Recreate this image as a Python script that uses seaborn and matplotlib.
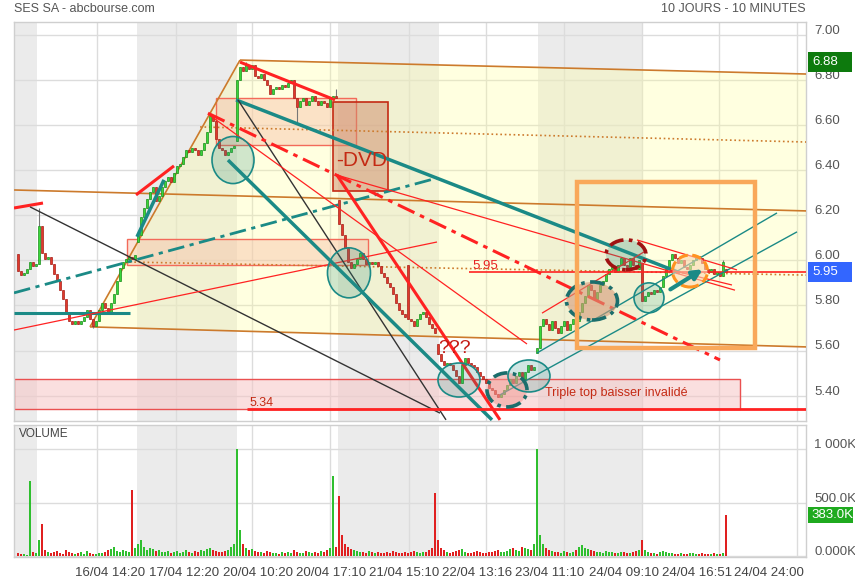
import numpy as np
import pandas as pd
import matplotlib
matplotlib.use("Agg")
import matplotlib.pyplot as plt
import matplotlib.transforms as mtrans
from matplotlib.patches import Rectangle, Ellipse, Polygon, FancyArrowPatch
import seaborn as sns

sns.set_theme(style="white")
plt.rcParams['font.family'] = ['Liberation Sans', 'DejaVu Sans']

# ---------------- data (10-minute bars, index = bar number) ----------------
closes = [
    # 15/04
    5.955, 5.935, 5.945, 5.96, 5.995, 5.975, 5.985,
    # 16/04
    6.155, 6.035, 6.005, 6.015, 5.985, 5.94, 5.91, 5.87, 5.83, 5.77,
    5.73, 5.72, 5.73, 5.72, 5.73, 5.75, 5.78, 5.74, 5.71, 5.73,
    5.78, 5.81, 5.79, 5.77, 5.81, 5.85, 5.91, 5.965, 5.995, 6.005,
    6.015, 6.005, 6.025,
    # 17/04
    6.115, 6.195, 6.235, 6.275, 6.305, 6.325, 6.265, 6.285, 6.325, 6.355,
    6.37, 6.35, 6.39, 6.42, 6.43, 6.46, 6.49, 6.48, 6.50, 6.49,
    6.47, 6.49, 6.52, 6.57, 6.64, 6.62, 6.54, 6.50, 6.49, 6.47,
    6.48, 6.50, 6.51,
    # 20/04
    6.80, 6.86, 6.84, 6.87, 6.85, 6.87, 6.82, 6.81, 6.83, 6.80,
    6.78, 6.74, 6.76, 6.77, 6.76, 6.78, 6.77, 6.79, 6.80, 6.72,
    6.68, 6.71, 6.72, 6.69, 6.71, 6.73, 6.71, 6.69, 6.71, 6.70,
    6.68, 6.72, 6.73, 6.72,
    # 21/04
    6.16, 6.115, 6.055, 5.995, 5.965, 5.985, 6.005, 6.035, 6.005, 5.985,
    5.995, 5.985, 5.995, 5.975, 5.945, 5.925, 5.90, 5.88, 5.85, 5.81,
    5.78, 5.76, 5.75, 5.74, 5.73, 5.71, 5.74, 5.76, 5.77, 5.75,
    5.72, 5.70, 5.68,
    # 22/04
    5.585, 5.555, 5.535, 5.545, 5.535, 5.515, 5.485, 5.455, 5.535, 5.565,
    5.545, 5.535, 5.525, 5.505, 5.485, 5.475, 5.455, 5.435, 5.425, 5.405,
    5.395, 5.405, 5.425, 5.445, 5.475, 5.455, 5.485, 5.505, 5.475, 5.505,
    5.535, 5.515, 5.525,
    # 23/04
    5.61, 5.71, 5.74, 5.72, 5.69, 5.73, 5.70, 5.68, 5.71, 5.73,
    5.69, 5.72, 5.74, 5.73, 5.77, 5.81, 5.84, 5.89, 5.87, 5.83,
    5.86, 5.89, 5.91, 5.94, 5.96, 5.97, 5.95, 5.98, 6.01, 5.98,
    5.97, 6.01, 5.98, 5.96, 6.00,
    # 24/04
    5.82, 5.84, 5.86, 5.85, 5.87, 5.86, 5.88, 5.93, 5.96, 6.00,
    6.03, 6.01, 5.99, 6.00, 5.97, 5.96, 5.98, 6.00, 6.02, 6.01,
    5.99, 5.96, 5.95, 5.96, 5.94, 5.95, 5.93, 5.995, 5.95,
]
open_gaps = {0: 6.03, 7: 5.985, 40: 6.08, 73: 6.53, 107: 6.27, 130: 5.98,
             140: 5.63, 173: 5.59, 208: 5.99, 236: 5.96}
high_wicks = {7: 6.235, 76: 6.88, 106: 6.76, 235: 6.00}
low_wicks = {25: 5.70, 93: 6.61}

volumes = [
    30, 20, 25, 15, 700, 40, 30,
    150, 300, 60, 45, 30, 40, 55, 35, 25, 60, 40, 30, 20, 35, 45, 25, 50, 30,
    25, 20, 35, 30, 45, 60, 70, 90, 55, 45, 60, 50, 40, 620, 80,
    120, 150, 90, 60, 80, 70, 50, 60, 45, 40, 55, 35, 40, 50, 30, 45, 60, 40,
    35, 50, 45, 60, 55, 70, 80, 60, 50, 45, 40, 55, 60, 90, 120,
    1000, 250, 120, 80, 60, 70, 50, 40, 45, 35, 50, 40, 30, 35, 25, 40, 30,
    45, 35, 60, 40, 30, 35, 50, 45, 30, 40, 35, 50, 45, 60, 80, 750, 90,
    560, 200, 120, 90, 70, 60, 50, 45, 40, 35, 50, 40, 30, 45, 35, 30, 40, 35,
    50, 45, 30, 35, 40, 30, 45, 50, 40, 35, 45, 40, 60, 80, 590,
    150, 80, 60, 40, 35, 45, 50, 60, 70, 40, 35, 30, 45, 50, 40, 35, 30, 45,
    40, 50, 60, 45, 40, 55, 70, 80, 60, 50, 90, 80, 70, 60, 120,
    1000, 200, 120, 80, 60, 50, 45, 40, 35, 50, 45, 30, 40, 60, 90, 110, 80,
    70, 60, 50, 45, 40, 35, 50, 45, 40, 30, 35, 40, 45, 30, 35, 40, 50, 60,
    150, 60, 40, 35, 30, 25, 40, 50, 45, 35, 30, 25, 20, 30, 25, 20, 35, 30,
    25, 20, 30, 25, 20, 25, 30, 20, 25, 30, 383,
]

tick_pos = [30.7, 55.3, 80.0, 104.3, 128.7, 153.0, 177.3, 202.0, 226.3, 250.3]
tick_labels = ["16/04 14:20", "17/04 12:20", "20/04 10:20", "20/04 17:10",
               "21/04 15:10", "22/04 13:16", "23/04 11:10", "24/04 09:10",
               "24/04 16:51", "24/04 24:00"]
grid_x = [26.3, 52.7, 78.0, 104.0, 130.3, 156.0, 182.0, 208.0, 233.7, 259.7]
day_bands = [(-1.4, 6.33), (39.67, 73.0), (106.67, 140.33), (173.5, 208.0)]
price_ticks = [5.40, 5.60, 5.80, 6.00, 6.20, 6.40, 6.60, 6.80, 7.00]
vol_ticks = [0, 500, 1000]
vol_tick_labels = ["0.000K", "500.0K", "1 000K"]
high_mark = 6.88
last_price = 5.95

# ---------------- derived OHLC ----------------
closes = np.array(closes)
n = len(closes)
idx = np.arange(n)
opens = np.r_[closes[0], closes[:-1]].copy()
for k, v in open_gaps.items():
    opens[k] = v
highs = np.maximum(opens, closes)
lows = np.minimum(opens, closes)
for k, v in high_wicks.items():
    highs[k] = v
for k, v in low_wicks.items():
    lows[k] = v
up = closes >= opens

# ---------------- figure ----------------
W, H = 855, 580
fig = plt.figure(figsize=(W / 100, H / 100), dpi=100)
fig.patch.set_facecolor("white")
ax = fig.add_axes([14 / W, 1 - 421 / H, 792 / W, 399 / H])
axv = fig.add_axes([14 / W, 1 - 557 / H, 792 / W, 132 / H])

XMIN, XMAX = -1.33, 262.67
for a in (ax, axv):
    a.set_xlim(XMIN, XMAX)
    a.set_facecolor("white")
    for b0, b1 in day_bands:
        a.axvspan(b0, b1, color="#ebebeb", lw=0, zorder=0)
    for gx in grid_x:
        a.axvline(gx, color="#dcdcdc", lw=1, zorder=0.5)
    for s in a.spines.values():
        s.set_color("#cfcfcf")
        s.set_linewidth(1)

ax.set_ylim(5.287, 7.059)
axv.set_ylim(-5, 1222)
for p in price_ticks:
    ax.axhline(p, color="#dcdcdc", lw=1, zorder=0.5)
for v in vol_ticks:
    axv.axhline(v, color="#dcdcdc", lw=1, zorder=0.5)

# ---------- yellow channel fill ----------
ax.add_patch(Polygon([(24.0, 5.705), (74.0, 6.890), (262.7, 6.828), (262.7, 5.616)],
                     closed=True, fc="#ffff99", alpha=0.3, lw=0, zorder=1))

ORANGE = "#cc7a2c"
RED = "#ff2222"
TEAL = "#1b8a86"
BLACK = "#333333"

def seg(p0, p1, color, lw=1.0, ls="-", z=3, alpha=1.0):
    ax.plot([p0[0], p1[0]], [p0[1], p1[1]], color=color, lw=lw, ls=ls,
            zorder=z, alpha=alpha, solid_capstyle="butt")

# channel lines
seg((74.0, 6.890), (262.7, 6.828), ORANGE, 1.2)
seg((24.0, 5.705), (74.0, 6.890), ORANGE, 1.2)
seg((24.0, 5.705), (262.7, 5.616), ORANGE, 1.2)
seg((-1.3, 6.313), (262.7, 6.220), ORANGE, 1.2)
seg((60.7, 6.593), (262.7, 6.526), ORANGE, 1.2, ":")
seg((37.3, 5.993), (262.7, 5.935), ORANGE, 1.2, ":")

# rectangles (pink zones)
def rect(x0, x1, y0, y1, fc, ec, alpha, lw=1.0, z=2.5):
    ax.add_patch(Rectangle((x0, y0), x1 - x0, y1 - y0, fc=fc, alpha=alpha,
                           lw=0, zorder=z))
    ax.add_patch(Rectangle((x0, y0), x1 - x0, y1 - y0, fill=False, ec=ec,
                           lw=lw, zorder=z))

rect(36.33, 116.67, 5.980, 6.095, "#f7bfa8", "#f36a5a", 0.45)
rect(66.0, 112.67, 6.513, 6.721, "#f7bfa8", "#f36a5a", 0.45)
rect(105.0, 123.33, 6.309, 6.704, "#cf8a6a", "#c42a14", 0.5, 1.2)
rect(-1.33, 240.67, 5.340, 5.474, "#f6c6c6", "#ea5050", 0.55)
ax.text(114.67, 6.442, "-DVD", color="#c42a14", fontsize=15, ha="center",
        va="center", zorder=6)

# ---------------- candles ----------------
body_h = np.where(np.abs(closes - opens) < 0.004, 0.004, closes - opens)
ax.vlines(idx, lows, highs, color="#777777", lw=0.8, zorder=3.5)
ax.bar(idx[up], body_h[up], bottom=opens[up], width=0.75, color="#39d639",
       edgecolor="#1c8f1c", lw=0.5, zorder=4)
ax.bar(idx[~up], body_h[~up], bottom=opens[~up], width=0.75, color="#e0392b",
       edgecolor="#a8201a", lw=0.5, zorder=4)

# ---------------- trend lines ----------------
seg((-1.33, 6.233), (8.33, 6.255), RED, 2.2, z=5)
seg((4.0, 6.238), (140.67, 5.322), BLACK, 1.0, z=5)
seg((-1.33, 5.767), (37.33, 5.767), TEAL, 2.2, z=5)
seg((-1.33, 5.856), (139.67, 6.366), TEAL, 2.0, (0, (6, 2, 1.5, 2)), z=5)
seg((-1.33, 5.691), (139.67, 6.082), RED, 0.9, z=5)
seg((39.67, 6.105), (48.67, 6.358), TEAL, 2.5, z=5)
seg((39.33, 6.291), (52.0, 6.420), RED, 2.2, z=5)
seg((74.0, 6.881), (105.67, 6.713), RED, 2.2, z=5)
seg((72.67, 6.713), (220.67, 5.945), TEAL, 2.5, z=5)
seg((73.33, 6.713), (142.67, 5.292), BLACK, 1.0, z=5)
seg((70.0, 6.446), (158.0, 5.292), TEAL, 2.5, z=5)
seg((63.33, 6.654), (234.0, 5.558), RED, 2.2, (0, (6, 2, 1.5, 2)), z=5)
seg((63.33, 6.650), (169.67, 5.629), RED, 0.9, z=5)
seg((106.33, 6.379), (160.67, 5.292), RED, 2.2, z=5)
seg((106.33, 6.379), (239.0, 5.868), RED, 0.9, z=5)
seg((150.33, last_price), (262.67, last_price), RED, 1.2, z=5)
seg((76.33, 5.34), (262.67, 5.34), RED, 2.0, z=5)
seg((173.0, 5.589), (253.0, 6.211), TEAL, 1.0, z=5)
seg((160.67, 5.403), (259.67, 6.127), TEAL, 1.0, z=5)
seg((206.33, 6.091), (239.67, 5.958), RED, 0.9, z=5)
seg((217.33, 5.958), (238.0, 5.891), RED, 0.9, z=5)
seg((174.67, 5.766), (209.67, 6.046), RED, 0.9, z=5)
ax.add_patch(FancyArrowPatch((216.67, 5.865), (229.0, 5.967), arrowstyle="-|>",
                             mutation_scale=14, color=TEAL, lw=3, zorder=6))

ax.text(155.67, 5.975, "5.95", color="#e82020", fontsize=9.5, ha="center",
        va="center", zorder=6)
ax.text(81.33, 5.367, "5.34", color="#c42a14", fontsize=9, ha="center",
        va="center", zorder=6)
ax.text(175.67, 5.412, "Triple top baisser invalidé", color="#c42a14",
        fontsize=9, ha="left", va="center", zorder=6)
ax.text(145.67, 5.611, "???", color="#c41a14", fontsize=14, ha="center",
        va="center", zorder=6)

# ---------------- ellipses ----------------
def ell(cx, cy, w, h, fc, falpha, ec, ls="-", lw=1.2):
    ax.add_patch(Ellipse((cx, cy), w, h, fc=fc, alpha=falpha, lw=0, zorder=5.5))
    ax.add_patch(Ellipse((cx, cy), w, h, fill=False, ec=ec, ls=ls, lw=lw,
                         zorder=5.6))

TEALF = "#2a8f84"
ell(71.67, 6.446, 14.0, 0.209, TEALF, 0.22, TEAL)
ell(110.33, 5.945, 14.33, 0.222, TEALF, 0.22, TEAL)
ell(147.0, 5.469, 14.0, 0.151, TEALF, 0.22, TEAL)
ell(170.33, 5.487, 14.0, 0.142, TEALF, 0.22, TEAL)
ell(163.0, 5.425, 13.33, 0.151, "#f29a94", 0.55, "#1b6e6c", (0, (4, 1.5, 1, 1.5)), 2.6)
ell(191.33, 5.820, 17.0, 0.169, "#d69a78", 0.6, "#1b6e6c", (0, (4, 1.5, 1, 1.5)), 2.6)
ell(202.67, 6.025, 13.33, 0.133, TEALF, 0.25, "#a01212", (0, (4, 1.5, 1, 1.5)), 2.6)
ell(210.33, 5.834, 10.0, 0.133, TEALF, 0.22, TEAL)
ell(224.0, 5.953, 11.67, 0.142, "#fbd6b0", 0.6, "#ff9320", (0, (3, 1.5)), 2.2)

ax.add_patch(Rectangle((186.33, 5.611), 59.34, 0.737, fill=False, ec="#f9a85a",
                       lw=3.2, zorder=5.7))

# ---------------- volume (seaborn) ----------------
vdf = pd.DataFrame({"bar": idx, "vol": volumes,
                    "dir": np.where(up, "up", "down")})
sns.barplot(data=vdf, x="bar", y="vol", hue="dir",
            palette={"up": "#2fbf2f", "down": "#e02020"}, native_scale=True,
            dodge=False, width=0.55, saturation=1, legend=False,
            errorbar=None, linewidth=0, ax=axv, zorder=3)
axv.set_xlim(XMIN, XMAX)
axv.set_xlabel("")
axv.set_ylabel("")

# ---------------- axes labels / ticks ----------------
ax.set_xticks([])
ax.yaxis.tick_right()
ax.set_yticks(price_ticks)
ax.set_yticklabels([f"{p:.2f}" for p in price_ticks])
ax.tick_params(axis="y", length=0, pad=6, labelsize=9.5, labelcolor="#555555")
off = mtrans.ScaledTranslation(0, 4 / 72, fig.dpi_scale_trans)
for lab in ax.get_yticklabels():
    lab.set_transform(lab.get_transform() + off)

axv.yaxis.tick_right()
axv.set_yticks(vol_ticks)
axv.set_yticklabels(vol_tick_labels)
axv.tick_params(axis="y", length=0, pad=6, labelsize=9.5, labelcolor="#555555")
for lab in axv.get_yticklabels():
    lab.set_transform(lab.get_transform() + off)
axv.set_xticks(tick_pos)
axv.set_xticklabels(tick_labels)
axv.tick_params(axis="x", length=0, pad=7, labelsize=9.5, labelcolor="#444444")

axv.text(0.006, 0.935, "VOLUME", transform=axv.transAxes, fontsize=8.5,
         color="#444444", va="center", ha="left")

# price / volume tags on the right
tr = mtrans.blended_transform_factory(fig.transFigure, ax.transData)
for val, col in ((high_mark, "#0d7a0d"), (last_price, "#3366ff")):
    ax.add_patch(Rectangle((808 / W, val - 0.044), 44 / W, 0.088, transform=tr,
                           fc=col, ec="none", clip_on=False, zorder=10))
    fig.text(812 / W, 0, f"{val:.2f}", transform=tr, color="white",
             fontsize=9.5, va="center", ha="left", zorder=11)
    fig.texts[-1].set_position((812 / W, val))
trv = mtrans.blended_transform_factory(fig.transFigure, axv.transData)
axv.add_patch(Rectangle((808 / W, volumes[-1] - 75), 45 / W, 150, transform=trv,
                        fc="#1faa1f", ec="none", clip_on=False, zorder=10))
fig.text(811 / W, volumes[-1], f"{volumes[-1]:.1f}K", transform=trv,
         color="white", fontsize=9.5, va="center", ha="left", zorder=11)

fig.text(14 / W, 1 - 9 / H, "SES SA - abcbourse.com", fontsize=9,
         color="#555555", va="center", ha="left")
fig.text(806 / W, 1 - 9 / H, "10 JOURS - 10 MINUTES", fontsize=9,
         color="#555555", va="center", ha="right")

fig.savefig("out.png", dpi=100, facecolor="white")
